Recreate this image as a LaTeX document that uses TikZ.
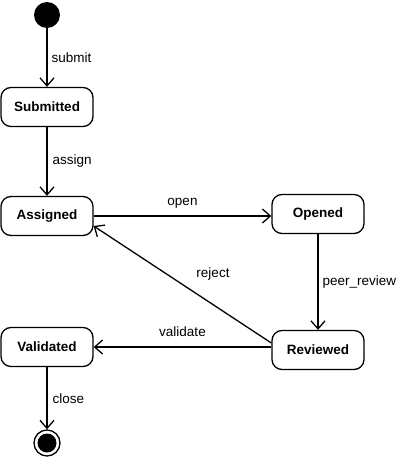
\documentclass[tikz,border=0pt]{standalone}
\usepackage{fontspec}
\setmainfont{Liberation Sans}
\usetikzlibrary{arrows.meta}
\begin{document}
\begin{tikzpicture}[x=1pt,y=-1pt,
  state/.style={draw,line width=1.3pt,rounded corners=10pt,minimum width=92pt,minimum height=39pt,font=\fontsize{13.5}{16}\selectfont\bfseries,inner sep=0pt},
  trans/.style={line width=1.3pt,-{Straight Barb[length=8pt,width=14pt,line width=1.3pt]}},
  lbl/.style={font=\fontsize{13.5}{16}\selectfont,inner sep=0pt}]
\useasboundingbox (0,0) rectangle (400,461);
\node[circle,fill=black,minimum size=26pt,inner sep=0pt] (init) at (47,15) {};
\node[state] (sub) at (47,107) {Submitted};
\node[state] (asg) at (47,216) {Assigned};
\node[state] (opn) at (318,214) {Opened};
\node[state] (rev) at (318,350) {Reviewed};
\node[state] (val) at (47,347) {Validated};
\node[circle,draw,line width=1.3pt,minimum size=26pt,inner sep=0pt] (fin) at (47,443) {};
\node[circle,fill=black,minimum size=19pt,inner sep=0pt] (finin) at (fin) {};
\coordinate (rs) at ([yshift=7pt]rev.west);
\coordinate (ae) at ([yshift=-10pt]asg.east);
\draw[trans] (init) -- (sub) node[lbl,midway,right=4pt] {submit};
\draw[trans] (sub) -- (asg) node[lbl,midway,right=5pt] {assign};
\draw[trans] (asg.east) -- (asg.east -| opn.west) node[lbl,midway,above=7pt] {open};
\draw[trans] (opn) -- (rev) node[lbl,midway,right=4pt] {peer\_review};
\draw[trans] (rs) -- (ae);
\node[lbl] (rejl) at (213,274) {reject};
\draw[trans] (val.east -| rev.west) coordinate (rv) -- (val.east) node[lbl,midway,above=10pt] {validate};
\draw[trans] (val) -- (fin) node[lbl,midway,right=5pt] {close};
\end{tikzpicture}
\end{document}
